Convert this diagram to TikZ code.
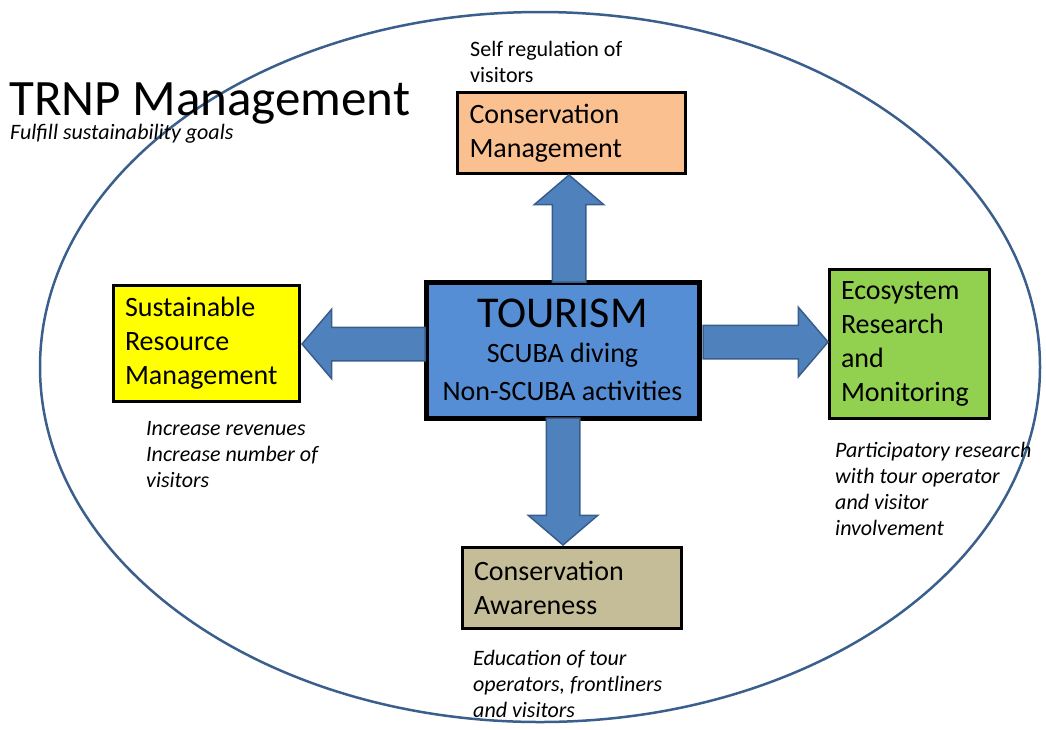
\documentclass[tikz,border=0pt]{standalone}
\usepackage{fontspec}
\setmainfont{Carlito}
\usepackage{tikz}
\usetikzlibrary{positioning, calc}
\usetikzlibrary{shapes.geometric, shapes.arrows}
\definecolor{tourblue}{HTML}{558ED5}
\definecolor{arrowblue}{HTML}{4F81BD}
\definecolor{arrowedge}{HTML}{385D8A}
\definecolor{parkline}{HTML}{3A5F8C}
\definecolor{cmorange}{HTML}{FAC090}
\definecolor{srmyellow}{HTML}{FFFF00}
\definecolor{ermgreen}{HTML}{92D050}
\definecolor{catan}{HTML}{C4BD97}
\tikzset{goal_box/.style={rectangle, draw=black, line width=3pt, outer sep=0pt, inner xsep=12pt, inner ysep=0pt, align=left, font=\fontsize{28}{34}\selectfont},
	block_arrow/.style={single arrow, draw=arrowedge, fill=arrowblue, line width=1.5pt, inner xsep=0pt, inner ysep=16pt, outer sep=0pt, single arrow head extend=18pt, single arrow tip angle=99, anchor=tail, minimum height=#1}
}
\tikzstyle{note_text} = [anchor=north west, inner sep=0pt, align=left, font=\fontsize{22}{26}\selectfont\itshape]

\begin{document}
\begin{tikzpicture}[x=1pt, y=-1pt]
				\useasboundingbox (0,0) rectangle (1046,729);
				% park boundary
				\node[ellipse, draw=parkline, line width=2.5pt, inner sep=0pt, minimum width=1000pt, minimum height=710pt] (park) at (540,367) {};
				
				\node[draw=black, line width=5pt, fill=tourblue, outer sep=0pt, minimum width=273pt, minimum height=136pt, align=center, font=\fontsize{28}{29}\selectfont](tour) at (562.5,350) {{\fontsize{44}{44}\selectfont TOURISM}\\[6pt] SCUBA diving\\[9pt] Non-SCUBA activities};
				\node[goal_box, fill=cmorange, minimum width=228pt, minimum height=81pt, text width=204pt, above=108.5pt of tour, xshift=9pt](cm) {Conservation\\Management};
				\node[goal_box, fill=srmyellow, minimum width=186pt, minimum height=116pt, text width=162pt, left=127pt of tour, yshift=7pt](srm) {Sustainable\\Resource\\Management};
				\node[goal_box, fill=ermgreen, minimum width=160pt, minimum height=149pt, text width=136pt, right=130pt of tour, yshift=6.5pt](erm) {Ecosystem\\Research\\and\\Monitoring};
				\node[goal_box, fill=catan, minimum width=219pt, minimum height=81pt, text width=195pt, below=129pt of tour, xshift=9pt](ca) {Conservation\\Awareness};
				
				% draw arrows
				\node[block_arrow=107pt, rotate=90] (up_arrow) at ($(tour.north) + (6.5,0)$) {};
				\node[block_arrow=123pt, rotate=180] (left_arrow) at ($(tour.west) + (-1,-6)$) {};
				\node[block_arrow=125pt] (right_arrow) at ($(tour.east) + (4,-8)$) {};
				\node[block_arrow=127pt, rotate=-90] (down_arrow) at ($(tour.south) + (0.5,0)$) {};
				
				% notes
				\node[note_text, font=\fontsize{22}{26}\selectfont, above right=10pt and 12.5pt of cm.north west] (selfreg) {Self regulation of\\visitors};
				\node[note_text, below right=20pt and 33pt of srm.south west] (incr) {Increase revenues\\Increase number of\\visitors};
				\node[note_text, below right=24pt and 6pt of erm.south west] (part) {Participatory research\\with tour operator\\and visitor\\involvement};
				\node[note_text, below right=22pt and 11pt of ca.south west] (educ) {Education of tour\\operators, frontliners\\and visitors};
				
				\node[anchor=base west, inner sep=0pt, font=\fontsize{51}{51}\selectfont] (title) at (9,115) {TRNP Management};
				\node[note_text, anchor=base west] (goal) at (10,139) {Fulfill sustainability goals};
			\end{tikzpicture}
\end{document}
